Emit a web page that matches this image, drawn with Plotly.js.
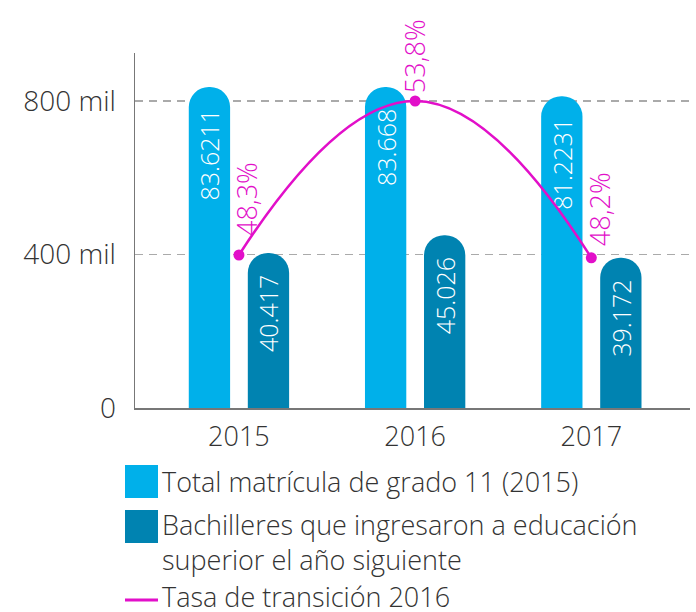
<!DOCTYPE html>
<html>
<head>
<meta charset="utf-8">
<script src="https://cdn.plot.ly/plotly-3.0.1.min.js"></script>
<style>html,body{margin:0;padding:0;background:#fff;}#chart{width:696px;height:612px;}</style>
</head>
<body>
<div id="chart"></div>
<script>
// ---- data ----
var years = ['2015', '2016', '2017'];
var totalMatricula = [836.211, 836.68, 812.231];      // miles
var totalLabels = ['83.6211', '83.668', '81.2231'];
var bachilleres = [404.17, 450.26, 391.72];           // miles
var bachLabels = ['40.417', '45.026', '39.172'];
var tasa = [48.3, 53.8, 48.2];                        // %
var tasaLabels = ['48,3%', '53,8%', '48,2%'];
var yTickVals = [0, 400, 800];
var yTickText = ['0', '400 mil', '800 mil'];
var legendNames = ['Total matrícula de grado 11 (2015)',
                   'Bachilleres que ingresaron a educación<br>superior el año siguiente',
                   'Tasa de transición 2016'];

// label offsets (style only, pixels)
var pctYShift = [17, 6, 10];
var pctXShift = [7, 0, 8];

var cLight = '#00B0EA', cDark = '#0083B1', cMag = '#E20FC9';
var FONT = '"Open Sans", Lato, sans-serif';
var W = 300;
var PAD = '\u00A0';

function padEnd(arr) { return arr.map(function (s) { return s + PAD; }); }

var traces = [
  {type: 'bar', x: years, y: totalMatricula, text: padEnd(totalLabels), name: legendNames[0],
   marker: {color: cLight, cornerradius: '50%'},
   textposition: 'inside', insidetextanchor: 'end', textangle: -90,
   textfont: {color: '#fff', size: 25, family: FONT, weight: W}, constraintext: 'none',
   hoverinfo: 'skip', showlegend: false},
  {type: 'bar', x: years, y: bachilleres, text: padEnd(bachLabels), name: legendNames[1],
   marker: {color: cDark, cornerradius: '50%'},
   textposition: 'inside', insidetextanchor: 'end', textangle: -90,
   textfont: {color: '#fff', size: 25, family: FONT, weight: W}, constraintext: 'none',
   hoverinfo: 'skip', showlegend: false},
  {type: 'scatter', mode: 'lines+markers', x: years, y: tasa, yaxis: 'y2', name: legendNames[2],
   line: {color: cMag, width: 2.5, shape: 'spline', smoothing: 1.3},
   marker: {color: cMag, size: 11}, hoverinfo: 'skip', showlegend: false}
];

// pixel helpers for legend (plot area: x 135..690, y 53..408)
function px(x) { return (x - 135) / 555; }
function py(y) { return (408 - y) / 355; }

var annotations = [];
for (var i = 0; i < years.length; i++) {
  annotations.push({x: i, y: tasa[i], xref: 'x', yref: 'y2', text: tasaLabels[i],
    textangle: -90, showarrow: false, xanchor: 'center', yanchor: 'bottom',
    yshift: pctYShift[i], xshift: pctXShift[i],
    font: {color: cMag, size: 27, family: FONT, weight: W}});
}
var LF = 27;
annotations.push({x: px(160), y: py(481), xref: 'paper', yref: 'paper', text: legendNames[0],
  showarrow: false, xanchor: 'left', yanchor: 'middle', align: 'left',
  font: {color: '#333', size: LF, family: FONT, weight: W}});
annotations.push({x: px(160), y: py(542), xref: 'paper', yref: 'paper', text: legendNames[1],
  showarrow: false, xanchor: 'left', yanchor: 'middle', align: 'left',
  font: {color: '#333', size: LF, family: FONT, weight: W}});
annotations.push({x: px(160), y: py(596), xref: 'paper', yref: 'paper', text: legendNames[2],
  showarrow: false, xanchor: 'left', yanchor: 'middle', align: 'left',
  font: {color: '#333', size: LF, family: FONT, weight: W}});

var shapes = [
  {type: 'rect', xref: 'paper', yref: 'paper', x0: px(125), x1: px(158), y0: py(465), y1: py(498),
   fillcolor: cLight, line: {width: 0}},
  {type: 'rect', xref: 'paper', yref: 'paper', x0: px(125), x1: px(158), y0: py(510), y1: py(543),
   fillcolor: cDark, line: {width: 0}},
  {type: 'line', xref: 'paper', yref: 'paper', x0: px(125), x1: px(158), y0: py(600), y1: py(600),
   line: {color: cMag, width: 3}}
];

var layout = {
  width: 696, height: 612,
  margin: {l: 135, r: 6, t: 53, b: 204, pad: 0},
  paper_bgcolor: '#fff', plot_bgcolor: '#fff',
  font: {family: FONT, color: '#333', weight: W},
  barmode: 'group', bargap: 0.33, bargroupgap: 0.3,
  xaxis: {type: 'category', range: [-0.59, 2.56], showline: true, linecolor: '#777', linewidth: 1.5,
    ticks: '', showgrid: false, ticklabelstandoff: 4,
    tickfont: {size: 27, color: '#333', weight: W}, fixedrange: true},
  yaxis: {range: [0, 925], tickvals: yTickVals, ticktext: yTickText, showline: true,
    linecolor: '#777', linewidth: 1.5, showgrid: true, gridcolor: '#aaa', gridwidth: 1.5,
    griddash: '8px,6px', zeroline: false, ticks: '', ticklabelstandoff: 12,
    tickfont: {size: 28, color: '#333', weight: W}, fixedrange: true},
  yaxis2: {overlaying: 'y', side: 'right', range: [42.836, 55.514], showgrid: false,
    showticklabels: false, zeroline: false, showline: false, ticks: '', fixedrange: true},
  annotations: annotations,
  shapes: shapes,
  showlegend: false
};

Plotly.newPlot('chart', traces, layout, {displayModeBar: false, staticPlot: true});
</script>
</body>
</html>
